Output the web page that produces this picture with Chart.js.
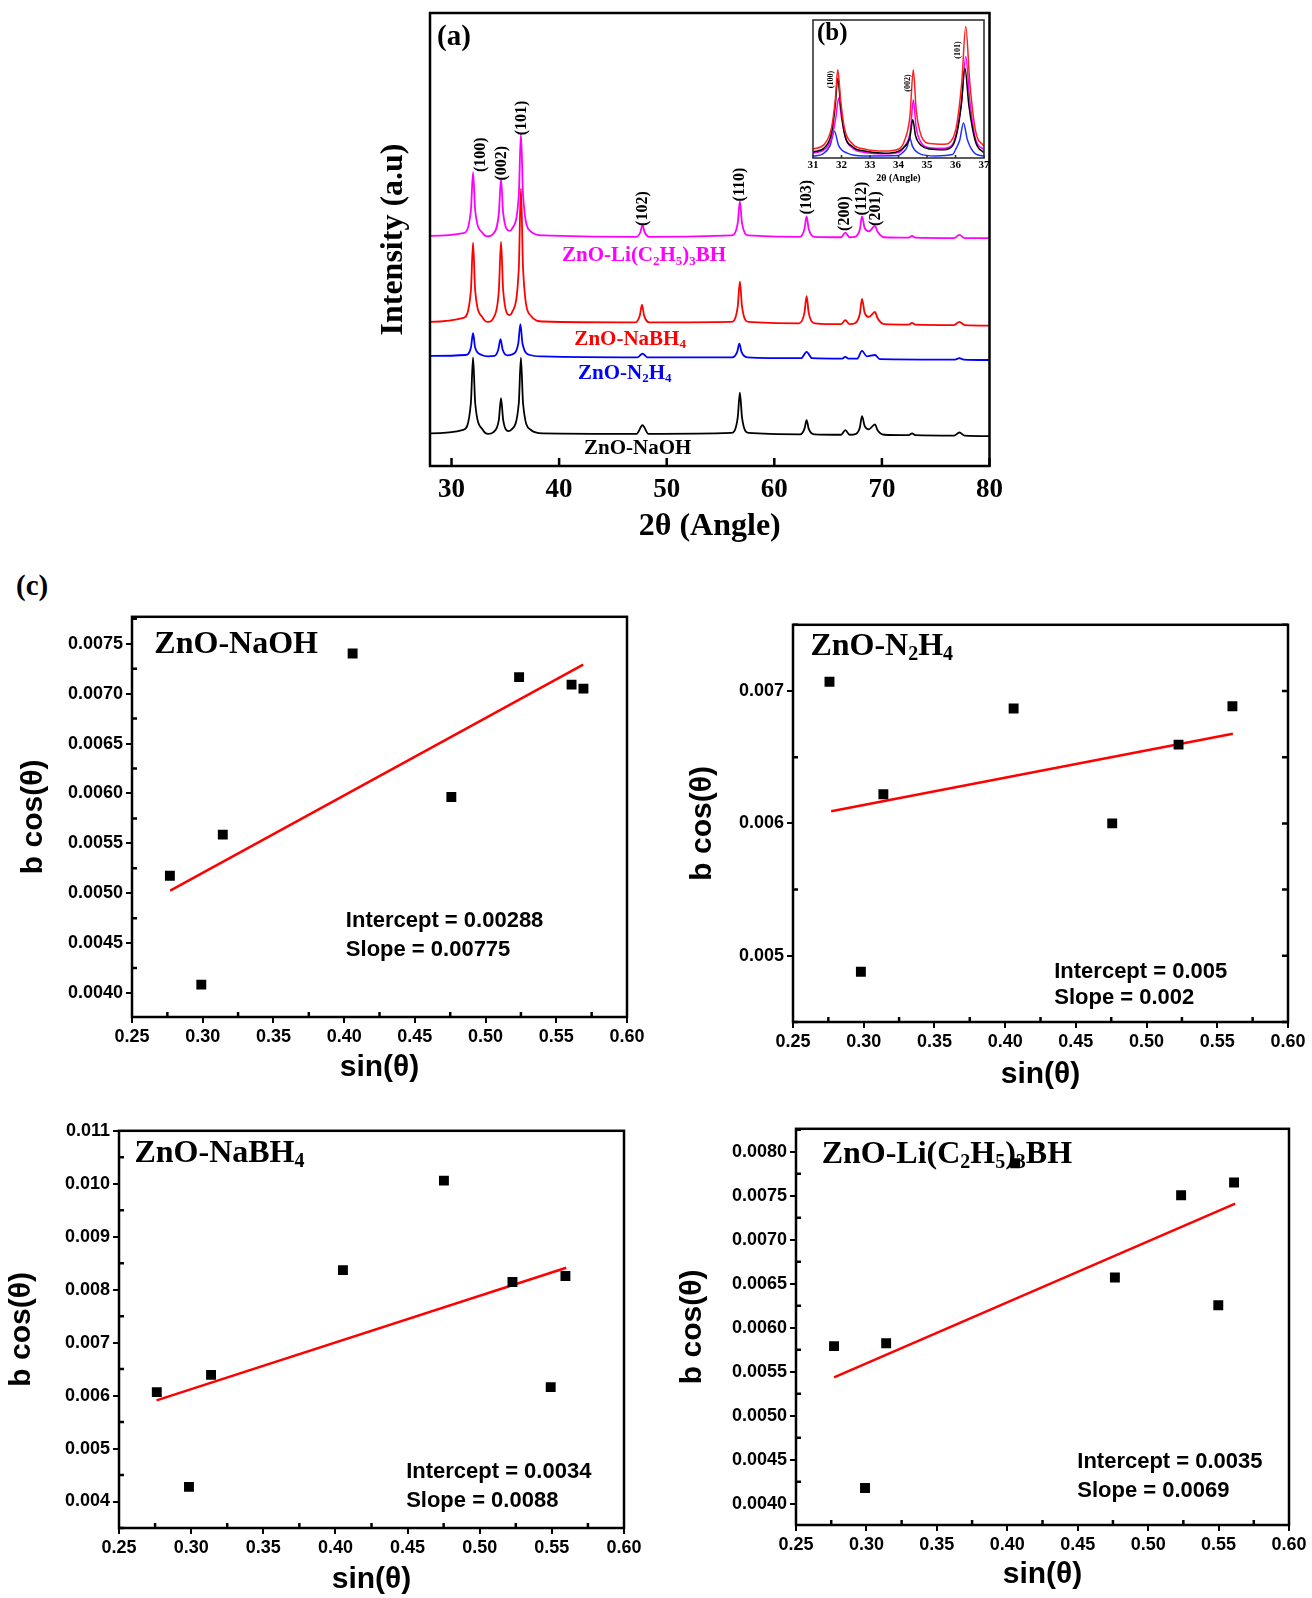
<!DOCTYPE html>
<html>
<head>
<meta charset="utf-8">
<script src="https://cdn.jsdelivr.net/npm/chart.js@4.4.1/dist/chart.umd.min.js"></script>
<style>
html, body { margin: 0; padding: 0; background: #fff; width: 1312px; height: 1598px; overflow: hidden; position: relative; }
canvas { position: absolute; }
#lblC { position: absolute; left: 16px; top: 571px; font: bold 29px 'Liberation Serif', serif; line-height: 1; }
</style>
</head>
<body>
<canvas id="xrd"></canvas>
<canvas id="inset"></canvas>
<div id="lblC">(c)</div>
<canvas id="pNaOH"></canvas>
<canvas id="pN2H4"></canvas>
<canvas id="pNaBH4"></canvas>
<canvas id="pLi"></canvas>
<script>
// ---- (a) XRD patterns: [2theta, intensity (a.u., offset stacked)] ----
const naohXrd = [[28,7.2],[31.1,8.0],[31.8,13.9],[32.0,24.0],[32.2,13.9],[32.9,8.0],[33.4,7.1],[33.9,7.5],[34.4,10.2],[34.6,15.0],[34.8,10.2],[35.3,7.7],[35.55,8.0],[36.25,13.8],[36.45,23.9],[36.65,13.8],[37.35,8.0],[38.5,7.2],[47.2,7.1],[47.75,9.0],[48.3,7.1],[56.0,7.3],[56.6,10.7],[56.8,16.2],[57.0,10.7],[57.6,7.3],[62.4,7.0],[62.8,8.2],[63.0,10.1],[63.2,8.2],[63.7,7.0],[66.2,6.9],[66.6,7.9],[67.0,6.9],[67.6,7.1],[67.95,8.5],[68.15,11.0],[68.4,8.8],[68.8,8.1],[69.35,9.2],[69.6,7.9],[70.2,6.9],[72.5,6.8],[72.8,7.2],[73.1,6.8],[76.7,6.7],[77.2,7.4],[77.7,6.7],[80,6.6]];
const n2h4Xrd = [[28,24.3],[31.3,24.5],[31.8,26.1],[32.0,29.3],[32.2,26.1],[32.8,24.5],[33.4,24.2],[34.0,24.3],[34.35,25.7],[34.55,28.0],[34.75,25.7],[35.2,24.4],[35.6,24.6],[36.2,27.0],[36.4,31.3],[36.6,27.0],[37.3,24.5],[38.5,24.2],[47.3,24.0],[47.75,24.8],[48.2,24.0],[56.1,24.0],[56.55,25.2],[56.75,27.0],[56.95,25.2],[57.5,24.0],[62.5,23.8],[63.0,25.2],[63.5,23.8],[66.3,23.7],[66.6,24.1],[66.9,23.7],[67.7,23.7],[68.15,25.4],[68.6,24.2],[69.35,24.5],[69.8,23.6],[76.8,23.5],[77.2,23.8],[77.6,23.5],[80,23.4]];
const nabh4Xrd = [[28,31.8],[31.1,32.7],[31.8,38.7],[32.0,49.3],[32.2,38.7],[32.9,32.7],[33.4,31.8],[33.9,32.7],[34.4,38.8],[34.6,49.5],[34.8,38.8],[35.4,33.3],[35.6,33.8],[36.25,43.5],[36.45,61.3],[36.65,43.5],[37.35,33.2],[38.5,31.9],[47.1,31.7],[47.5,33.2],[47.7,35.6],[47.9,33.2],[48.4,31.7],[56.0,31.8],[56.6,35.2],[56.8,40.7],[57.0,35.2],[57.6,31.8],[62.3,31.5],[62.8,33.8],[63.0,37.5],[63.2,33.8],[63.8,31.5],[66.2,31.3],[66.6,32.2],[67.0,31.3],[67.5,31.5],[67.95,33.6],[68.15,36.9],[68.4,33.8],[68.8,32.9],[69.35,34.0],[69.6,32.6],[70.2,31.3],[72.5,31.2],[72.8,31.6],[73.1,31.2],[76.7,31.1],[77.2,31.8],[77.7,31.1],[80,31.0]];
const liXrd = [[28,50.8],[31.1,51.4],[31.8,56.4],[32.0,64.8],[32.2,56.4],[32.9,51.4],[33.4,50.7],[33.9,51.3],[34.4,55.8],[34.6,63.4],[34.8,55.8],[35.4,51.9],[35.6,52.3],[36.25,59.7],[36.45,73.4],[36.65,59.7],[37.35,51.8],[38.5,50.9],[47.2,50.6],[47.55,51.6],[47.75,53.2],[47.95,51.6],[48.4,50.6],[56.0,50.9],[56.6,53.6],[56.8,58.4],[57.0,53.6],[57.6,50.9],[62.4,50.6],[62.8,52.3],[63.0,55.1],[63.2,52.3],[63.7,50.6],[66.2,50.5],[66.6,51.5],[67.0,50.5],[67.5,50.6],[67.95,52.2],[68.15,55.1],[68.4,52.5],[68.8,51.8],[69.35,53.0],[69.6,51.7],[70.2,50.5],[72.5,50.4],[72.8,50.8],[73.1,50.4],[76.7,50.3],[77.2,51.0],[77.7,50.3],[80,50.3]];
const xrdTicks = [30, 40, 50, 60, 70, 80];
const peakLabels = ['(100)','(002)','(101)','(102)','(110)','(103)','(200)','(112)','(201)'];
const peakLabelX = [32.75, 34.66, 36.57, 47.8, 56.84, 63.04, 66.6, 68.14, 69.43];
const peakLabelY = [64.9, 63.0, 73.0, 53.0, 58.4, 55.5, 51.9, 55.3, 53.0];

// ---- (b) inset, 31-37 deg ----
const insetRed = [[31,6.5],[31.4,10],[31.65,22],[31.78,42],[31.87,63.9],[31.97,42],[32.1,22],[32.4,10],[32.8,6.5],[33.5,5],[34.0,6.5],[34.2,12],[34.4,30],[34.52,63.9],[34.62,35],[34.8,16],[35.1,10.5],[35.6,10],[35.9,14],[36.05,25],[36.22,55],[36.36,95.2],[36.5,55],[36.7,20],[37,8.4]];
const insetBlack = [[31,4.3],[31.4,7.5],[31.65,18],[31.78,38],[31.87,57.8],[31.97,38],[32.1,18],[32.4,8],[32.8,5],[33.5,3.5],[34.0,5],[34.2,8],[34.4,15],[34.5,27.7],[34.6,16],[34.8,9],[35.1,6.5],[35.6,6],[35.9,9],[36.05,18],[36.2,38],[36.33,65],[36.47,38],[36.7,12],[37,3.6]];
const insetMagenta = [[31,3.6],[31.4,6],[31.65,14],[31.8,29],[31.9,43.4],[32.0,29],[32.15,14],[32.4,7],[32.8,4],[33.5,3],[34.0,4],[34.2,8],[34.42,20],[34.52,42.2],[34.62,22],[34.8,11],[35.1,7.5],[35.6,7],[35.9,10],[36.05,20],[36.22,42],[36.36,73.5],[36.5,42],[36.7,14],[37,6]];
const insetBlue = [[31,1.2],[31.35,3],[31.6,9],[31.75,19.3],[31.9,9],[32.2,3.5],[32.8,1.5],[34.0,1.8],[34.15,4],[34.3,8],[34.39,14.5],[34.5,8],[34.75,3],[35.3,1.5],[35.9,2.5],[36.0,6],[36.15,13],[36.28,25.3],[36.42,13],[36.7,3],[37,1.5]];
const insetTicks = [31, 32, 33, 34, 35, 36, 37];
const insetLabels = ['(100)','(002)','(101)'];
const insetLabelX = [31.63, 34.33, 36.1];
const insetLabelY = [50.6, 48, 72];

// ---- (c) b cos(theta) vs sin(theta) ----
const sinTicks = [0.25, 0.30, 0.35, 0.40, 0.45, 0.50, 0.55, 0.60];

const naohSin  = [0.2768, 0.2990, 0.3142, 0.4060, 0.4758, 0.5237, 0.5608, 0.5692];
const naohBcos = [0.005176, 0.004084, 0.005587, 0.007403, 0.005964, 0.007166, 0.007090, 0.007050];
const naohFitX = [0.277, 0.569];
const naohFitY = [0.005027, 0.00729];
const naohYTicks = [0.0040, 0.0045, 0.0050, 0.0055, 0.0060, 0.0065, 0.0070, 0.0075];

const n2h4Sin  = [0.2758, 0.2980, 0.3139, 0.4060, 0.4757, 0.5226, 0.5607];
const n2h4Bcos = [0.00707, 0.00488, 0.00622, 0.006868, 0.00600, 0.006595, 0.006885];
const n2h4FitX = [0.277, 0.561];
const n2h4FitY = [0.006092, 0.006677];
const n2h4YTicks = [0.005, 0.006, 0.007];

const nabh4Sin  = [0.2762, 0.2985, 0.3138, 0.4052, 0.4752, 0.5227, 0.5492, 0.5594];
const nabh4Bcos = [0.006066, 0.004276, 0.006392, 0.00837, 0.01006, 0.008145, 0.00616, 0.008258];
const nabh4FitX = [0.276, 0.560];
const nabh4FitY = [0.00591, 0.008415];
const nabh4YTicks = [0.004, 0.005, 0.006, 0.007, 0.008, 0.009, 0.010, 0.011];

const liSin  = [0.2770, 0.2990, 0.3140, 0.4056, 0.4764, 0.5234, 0.5498, 0.5610];
const liBcos = [0.005792, 0.00418, 0.005825, 0.007869, 0.006571, 0.0075045, 0.006256, 0.0076506];
const liFitX = [0.277, 0.5618];
const liFitY = [0.005436, 0.007411];
const liYTicks = [0.0040, 0.0045, 0.0050, 0.0055, 0.0060, 0.0065, 0.0070, 0.0075, 0.0080];

const SERIF = "'Liberation Serif', 'Times New Roman', serif";
const SANS = "'Liberation Sans', Arial, sans-serif";

function pairs(arr) { return arr.map(p => ({ x: p[0], y: p[1] })); }
function zip(xs, ys) { return xs.map((x, i) => ({ x: x, y: ys[i] })); }
function fixTicks(values) { return scale => { scale.ticks = values.map(v => ({ value: v })); }; }

// text with "_d" subscripts, drawn at origin (middle baseline)
function drawRich(ctx, text, size, family, color, align) {
    const parts = text.split(/(_\d)/).filter(s => s.length).map(s => {
        const sub = s[0] === '_';
        return { t: sub ? s.slice(1) : s, sub: sub, size: sub ? Math.round(size * 0.64) : size };
    });
    let w = 0;
    parts.forEach(p => {
        ctx.font = 'bold ' + p.size + 'px ' + family;
        p.w = ctx.measureText(p.t).width;
        w += p.w;
    });
    let cx = align === 'center' ? -w / 2 : 0;
    ctx.fillStyle = color;
    ctx.textBaseline = 'middle';
    ctx.textAlign = 'left';
    parts.forEach(p => {
        ctx.font = 'bold ' + p.size + 'px ' + family;
        ctx.fillText(p.t, cx, p.sub ? size * 0.26 : 0);
        cx += p.w;
    });
}

function drawItems(chart, items) {
    const ctx = chart.ctx, x = chart.scales.x, y = chart.scales.y;
    items.forEach(it => {
        ctx.save();
        ctx.translate(x.getPixelForValue(it.x), y.getPixelForValue(it.y));
        if (it.rot) ctx.rotate(-Math.PI / 2);
        drawRich(ctx, it.text, it.size, it.family, it.color || '#000', it.align || 'left');
        ctx.restore();
    });
}

const notesPlugin = {
    id: 'notes',
    beforeDatasetsDraw(chart, args, o) { drawItems(chart, o.under || []); },
    afterDatasetsDraw(chart, args, o) { drawItems(chart, o.over || []); }
};

function minorValues(scale) {
    const v = scale.ticks.map(t => t.value);
    if (v.length < 2) return [];
    const step = v[1] - v[0];
    const out = [v[0] - step / 2];
    for (let i = 0; i < v.length - 1; i++) out.push((v[i] + v[i + 1]) / 2);
    out.push(v[v.length - 1] + step / 2);
    return out.filter(m => m >= scale.min && m <= scale.max);
}

const framePlugin = {
    id: 'frame',
    beforeDraw(chart, args, o) {
        if (!o.fill) return;
        const a = chart.chartArea, ctx = chart.ctx;
        ctx.save();
        ctx.fillStyle = o.fill;
        ctx.fillRect(a.left, a.top, a.width, a.height);
        ctx.restore();
    },
    afterDraw(chart, args, o) {
        const ctx = chart.ctx, a = chart.chartArea, x = chart.scales.x, y = chart.scales.y;
        ctx.save();
        ctx.strokeStyle = o.color || '#000';
        ctx.lineWidth = o.width || 2;
        ctx.beginPath();
        if (o.inTick) {
            x.ticks.forEach(t => {
                const px = x.getPixelForValue(t.value);
                ctx.moveTo(px, a.bottom); ctx.lineTo(px, a.bottom - o.inTick);
            });
        }
        if (o.minor) {
            minorValues(x).forEach(v => {
                const px = x.getPixelForValue(v);
                ctx.moveTo(px, a.bottom); ctx.lineTo(px, a.bottom - 5);
            });
            minorValues(y).forEach(v => {
                const py = y.getPixelForValue(v);
                ctx.moveTo(a.left, py); ctx.lineTo(a.left + 5, py);
            });
        }
        if (o.mirrorY) {
            y.ticks.map(t => t.value).concat(minorValues(y)).forEach(v => {
                const py = y.getPixelForValue(v);
                ctx.moveTo(a.right, py); ctx.lineTo(a.right - 6, py);
            });
        }
        ctx.stroke();
        ctx.strokeRect(a.left, a.top, a.width, a.height);
        ctx.restore();
    }
};

function place(cv, left, top, w, h) {
    cv.width = w; cv.height = h;
    cv.style.left = left + 'px'; cv.style.top = top + 'px';
    cv.style.width = w + 'px'; cv.style.height = h + 'px';
}

// ---------- panel (a) ----------
(function () {
    const box = { L: 430, T: 13, R: 991, B: 466 };
    const padT = 6, padR = 20, wLeft = 59, hBottom = 84;
    const cv = document.getElementById('xrd');
    place(cv, box.L - wLeft, box.T - padT, wLeft + box.R - box.L + padR, padT + box.B - box.T + hBottom);
    const line = (data, color) => ({
        data: pairs(data), borderColor: color, borderWidth: 1.8, pointRadius: 0,
        cubicInterpolationMode: 'monotone', fill: false
    });
    const labels = peakLabels.map((t, i) => ({ text: t, x: peakLabelX[i], y: peakLabelY[i], rot: true, size: 16, family: SERIF }));
    const names = [
        { text: 'ZnO-Li(C_2H_5)_3BH', x: 47.9, y: 46.4, size: 21, family: SERIF, color: '#ff00ff', align: 'center' },
        { text: 'ZnO-NaBH_4', x: 46.6, y: 27.9, size: 21, family: SERIF, color: '#ff0000', align: 'center' },
        { text: 'ZnO-N_2H_4', x: 46.1, y: 20.5, size: 21, family: SERIF, color: '#0000ff', align: 'center' },
        { text: 'ZnO-NaOH', x: 47.3, y: 3.8, size: 21, family: SERIF, color: '#000', align: 'center' },
        { text: '(a)', x: 28.65, y: 94.5, size: 29, family: SERIF }
    ];
    new Chart(cv, {
        type: 'line',
        data: { datasets: [line(liXrd, '#ff00ff'), line(nabh4Xrd, '#ff0000'), line(n2h4Xrd, '#0000ff'), line(naohXrd, '#000000')] },
        options: {
            responsive: false, animation: false, events: [],
            layout: { padding: { top: padT, right: padR, left: 0, bottom: 0 } },
            plugins: {
                legend: { display: false }, tooltip: { enabled: false },
                frame: { width: 2.5, inTick: 8 },
                notes: { over: labels.concat(names) }
            },
            scales: {
                x: {
                    type: 'linear', min: 28, max: 80, afterBuildTicks: fixTicks(xrdTicks),
                    ticks: { padding: 8, color: '#000', font: { family: SERIF, weight: 'bold', size: 27 } },
                    grid: { display: false, drawTicks: false }, border: { display: false },
                    title: { display: true, text: '2θ (Angle)', color: '#000', font: { family: SERIF, weight: 'bold', size: 32 }, padding: { top: 0, bottom: 4 } },
                    afterFit(s) { s.height = hBottom; }
                },
                y: {
                    min: 0, max: 100,
                    ticks: { display: false }, grid: { display: false, drawTicks: false }, border: { display: false },
                    title: { display: true, text: 'Intensity (a.u)', color: '#000', font: { family: SERIF, weight: 'bold', size: 32 }, padding: { top: 4, bottom: 0 } },
                    afterFit(s) { s.width = wLeft; }
                }
            }
        },
        plugins: [framePlugin, notesPlugin]
    });
})();

// ---------- inset (b) ----------
(function () {
    const box = { L: 813, T: 20, R: 984, B: 158 };
    const padT = 2, padL = 8, padR = 8, hBottom = 27;
    const cv = document.getElementById('inset');
    place(cv, box.L - padL, box.T - padT, padL + box.R - box.L + padR, padT + box.B - box.T + hBottom);
    const line = (data, color) => ({
        data: pairs(data), borderColor: color, borderWidth: 1.5, pointRadius: 0,
        cubicInterpolationMode: 'monotone', fill: false
    });
    const labels = insetLabels.map((t, i) => ({ text: t, x: insetLabelX[i], y: insetLabelY[i], rot: true, size: 8, family: SERIF }));
    labels.push({ text: '(b)', x: 31.14, y: 89.9, size: 25, family: SERIF });
    new Chart(cv, {
        type: 'line',
        data: { datasets: [line(insetRed, '#ff2020'), line(insetBlack, '#000000'), line(insetMagenta, '#ff00ff'), line(insetBlue, '#2030ff')] },
        options: {
            responsive: false, animation: false, events: [],
            layout: { padding: { top: padT, right: padR, left: padL, bottom: 0 } },
            plugins: {
                legend: { display: false }, tooltip: { enabled: false },
                frame: { width: 1.6, color: '#333', inTick: 3, fill: '#fff' },
                notes: { over: labels }
            },
            scales: {
                x: {
                    type: 'linear', min: 31, max: 37, afterBuildTicks: fixTicks(insetTicks),
                    ticks: { padding: 1, color: '#000', font: { family: SERIF, weight: 'bold', size: 11 } },
                    grid: { display: false, drawTicks: false }, border: { display: false },
                    title: { display: true, text: '2θ (Angle)', color: '#000', font: { family: SERIF, weight: 'bold', size: 10 }, padding: { top: 0, bottom: 1 } },
                    afterFit(s) { s.height = hBottom; }
                },
                y: { display: false, min: 0, max: 100 }
            }
        },
        plugins: [framePlugin, notesPlugin]
    });
})();

// ---------- (c) four b cos(theta) plots ----------
function bcosPlot(id, box, o) {
    const cv = document.getElementById(id);
    const padT = 12, padR = o.padR;
    const left = o.titleX - 22;
    const wLeft = box.L - left;
    const hBottom = o.xTitleY - box.B + 18 + 4;
    place(cv, left, box.T - padT, wLeft + box.R - box.L + padR, padT + box.B - box.T + hBottom);
    const tickFont = { family: SANS, weight: 'bold', size: 18 };
    const titleFont = { family: SANS, weight: 'bold', size: 30 };
    new Chart(cv, {
        type: 'scatter',
        data: {
            datasets: [
                { data: zip(o.xs, o.ys), pointStyle: 'rect', pointRadius: 7, backgroundColor: '#000', borderWidth: 0 },
                { type: 'line', data: zip(o.fitX, o.fitY), borderColor: '#ff0000', borderWidth: 2.5, pointRadius: 0, fill: false }
            ]
        },
        options: {
            responsive: false, animation: false, events: [],
            layout: { padding: { top: padT, right: padR, left: 0, bottom: 0 } },
            plugins: {
                legend: { display: false }, tooltip: { enabled: false },
                frame: { width: 2.5, minor: true, mirrorY: o.mirror },
                notes: {
                    under: [{ text: o.name, x: o.nameX, y: o.nameY, size: 32, family: SERIF }],
                    over: [
                        { text: o.note1, x: o.noteX, y: o.noteY1, size: 22, family: SANS },
                        { text: o.note2, x: o.noteX, y: o.noteY2, size: 22, family: SANS }
                    ]
                }
            },
            scales: {
                x: {
                    type: 'linear', min: 0.25, max: 0.60, afterBuildTicks: fixTicks(sinTicks),
                    ticks: { padding: 3, color: '#000', font: tickFont, callback: v => v.toFixed(2) },
                    grid: { display: true, drawOnChartArea: false, drawTicks: true, tickLength: 6, color: '#000', lineWidth: 2 },
                    border: { display: false },
                    title: { display: true, text: 'sin(θ)', color: '#000', font: titleFont, padding: { top: 0, bottom: 4 } },
                    afterFit(s) { s.height = hBottom; }
                },
                y: {
                    type: 'linear', min: o.yMin, max: o.yMax, afterBuildTicks: fixTicks(o.yTicks),
                    ticks: { padding: 3, color: '#000', font: tickFont, callback: v => v.toFixed(o.yDec) },
                    grid: { display: true, drawOnChartArea: false, drawTicks: true, tickLength: 6, color: '#000', lineWidth: 2 },
                    border: { display: false },
                    title: { display: true, text: 'b cos(θ)', color: '#000', font: titleFont, padding: { top: 4, bottom: 0 } },
                    afterFit(s) { s.width = wLeft; }
                }
            }
        },
        plugins: [framePlugin, notesPlugin]
    });
}

bcosPlot('pNaOH', { L: 132, T: 615, R: 627, B: 1017 }, {
    xs: naohSin, ys: naohBcos, fitX: naohFitX, fitY: naohFitY,
    yMin: 0.00376, yMax: 0.00777, yTicks: naohYTicks, yDec: 4,
    titleX: 34, xTitleY: 1068, padR: 25,
    name: 'ZnO-NaOH', nameX: 0.2658, nameY: 0.00749,
    note1: 'Intercept = 0.00288', note2: 'Slope = 0.00775', noteX: 0.4012, noteY1: 0.004718, noteY2: 0.004434
});
bcosPlot('pN2H4', { L: 793, T: 623, R: 1288, B: 1022 }, {
    xs: n2h4Sin, ys: n2h4Bcos, fitX: n2h4FitX, fitY: n2h4FitY,
    yMin: 0.0045, yMax: 0.0075, yTicks: n2h4YTicks, yDec: 3,
    titleX: 703, xTitleY: 1075, padR: 22, mirror: true,
    name: 'ZnO-N_2H_4', nameX: 0.2623, nameY: 0.007335,
    note1: 'Intercept = 0.005', note2: 'Slope = 0.002', noteX: 0.4347, noteY1: 0.00488, noteY2: 0.00468
});
bcosPlot('pNaBH4', { L: 119, T: 1129, R: 624, B: 1528 }, {
    xs: nabh4Sin, ys: nabh4Bcos, fitX: nabh4FitX, fitY: nabh4FitY,
    yMin: 0.0035, yMax: 0.011, yTicks: nabh4YTicks, yDec: 3,
    titleX: 22, xTitleY: 1580, padR: 25,
    name: 'ZnO-NaBH_4', nameX: 0.2607, nameY: 0.010575,
    note1: 'Intercept = 0.0034', note2: 'Slope = 0.0088', noteX: 0.449, noteY1: 0.004564, noteY2: 0.004013
});
bcosPlot('pLi', { L: 796, T: 1127, R: 1289, B: 1525 }, {
    xs: liSin, ys: liBcos, fitX: liFitX, fitY: liFitY,
    yMin: 0.00376, yMax: 0.00826, yTicks: liYTicks, yDec: 4,
    titleX: 693, xTitleY: 1575, padR: 22,
    name: 'ZnO-Li(C_2H_5)_3BH', nameX: 0.2682, nameY: 0.00797,
    note1: 'Intercept = 0.0035', note2: 'Slope = 0.0069', noteX: 0.4497, noteY1: 0.004476, noteY2: 0.00415
});
</script>
</body>
</html>
